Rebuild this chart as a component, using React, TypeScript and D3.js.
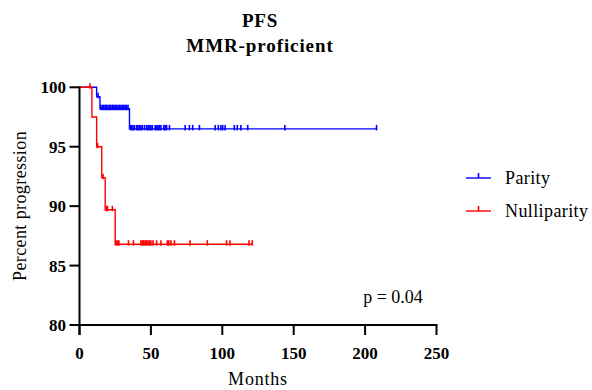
import React from "react";
import * as d3 from "d3";

const xTicks = [0, 50, 100, 150, 200, 250];
const yTicks = [80, 85, 90, 95, 100];

// Parity (blue) step curve
const parityTimes = [0, 12, 14.3, 35, 208];
const paritySurv = [100, 99.2, 98.2, 96.5, 96.5];
const parityCensor = [
  13, 15, 16, 17, 18, 19, 20, 21, 22, 23, 24, 25, 26, 27, 28, 29, 30, 31, 32, 33, 34,
  35.7, 36.6, 37.5, 38.5, 40, 41, 42, 43, 44, 45.5, 47, 48, 49, 50, 51, 53, 54, 55, 56, 57, 59, 60, 61, 63,
  74, 77, 79.3, 84, 95, 97.2, 99, 100.3, 102, 108.4, 110.5, 113, 117.8, 143.8, 208,
];

// Nulliparity (red) step curve
const nulliTimes = [0, 8.7, 12, 15.6, 18, 25, 121];
const nulliSurv = [100, 97.5, 95, 92.4, 89.7, 86.8, 86.8];
const nulliCensor = [
  7.3, 12.6, 16.5, 18.6, 19.6, 23,
  25.6, 26.6, 27.6, 34.3, 37.8, 43, 44, 45, 46, 47, 48, 49, 50, 51.5, 54, 57,
  61.5, 62.5, 64, 66.5, 77.4, 89.5, 103, 105.4, 118.7, 121,
];

const seriesNames = ["Parity", "Nulliparity"];
const seriesColors = ["#0000ff", "#ff0000"];

const FONT = "'Liberation Serif', 'Times New Roman', serif";

function stepValue(times: number[], surv: number[], t: number) {
  let v = surv[0];
  for (let i = 0; i < times.length; i++) {
    if (t >= times[i]) v = surv[i];
  }
  return v;
}

export default function App() {
  const x = d3.scaleLinear().domain([0, 250]).range([79.5, 436.5]);
  const y = d3.scaleLinear().domain([80, 100]).range([325, 87.3]);

  const line = d3
    .line<[number, number]>()
    .x((d) => x(d[0]))
    .y((d) => y(d[1]))
    .curve(d3.curveStepAfter);

  const series = [
    { times: parityTimes, surv: paritySurv, censor: parityCensor },
    { times: nulliTimes, surv: nulliSurv, censor: nulliCensor },
  ];

  return (
    <svg width={592} height={390} style={{ position: "absolute", left: 0, top: 0, background: "#fff" }}>
      <rect width={592} height={390} fill="#fff" />
      <text x={260} y={27} textAnchor="middle" fontFamily={FONT} fontWeight="bold" fontSize={19} letterSpacing={0.8}>PFS</text>
      <text x={260} y={52} textAnchor="middle" fontFamily={FONT} fontWeight="bold" fontSize={19} letterSpacing={0.9}>MMR-proficient</text>

      {series.map((s, i) => {
        const pts: [number, number][] = s.times.map((t, j) => [t, s.surv[j]]);
        return (
          <g key={i}>
            <path d={line(pts) || ""} fill="none" stroke={seriesColors[i]} strokeWidth={1.4} />
            {s.censor.map((c, k) => {
              const v = stepValue(s.times, s.surv, c);
              return (
                <line
                  key={k}
                  x1={x(c)}
                  x2={x(c)}
                  y1={y(v) - 4}
                  y2={y(v) + 1.5}
                  stroke={seriesColors[i]}
                  strokeWidth={1.6}
                />
              );
            })}
          </g>
        );
      })}

      {/* axes */}
      <line x1={x(0)} x2={x(0)} y1={y(100) - 1} y2={335} stroke="#000" strokeWidth={2} />
      <line x1={x(0) - 1} x2={x(250) + 1} y1={y(80)} y2={y(80)} stroke="#000" strokeWidth={2} />
      {yTicks.map((t) => (
        <g key={t}>
          <line x1={x(0) - 10} x2={x(0)} y1={y(t)} y2={y(t)} stroke="#000" strokeWidth={2} />
          <text x={66} y={y(t)} dy="0.35em" textAnchor="end" fontFamily={FONT} fontWeight="bold" fontSize={17}>
            {t}
          </text>
        </g>
      ))}
      {xTicks.map((t) => (
        <g key={t}>
          <line x1={x(t)} x2={x(t)} y1={y(80)} y2={335} stroke="#000" strokeWidth={2} />
          <text x={x(t)} y={359} textAnchor="middle" fontFamily={FONT} fontWeight="bold" fontSize={17}>
            {t}
          </text>
        </g>
      ))}
      <text x={258} y={385} textAnchor="middle" fontFamily={FONT} fontSize={18} letterSpacing={0.8}>Months</text>
      <text
        transform={`translate(26,206) rotate(-90)`}
        textAnchor="middle"
        fontFamily={FONT}
        fontSize={18}
        letterSpacing={0.4}
      >
        Percent progression
      </text>
      <text x={393} y={303} textAnchor="middle" fontFamily={FONT} fontSize={18}>p = 0.04</text>

      {/* legend */}
      {seriesNames.map((n, i) => {
        const ly = 178 + i * 33;
        return (
          <g key={n}>
            <line x1={466} x2={491} y1={ly} y2={ly} stroke={seriesColors[i]} strokeWidth={1.4} />
            <line x1={478.5} x2={478.5} y1={ly - 5} y2={ly} stroke={seriesColors[i]} strokeWidth={1.6} />
            <text x={505} y={ly} dy="0.35em" fontFamily={FONT} fontSize={18} letterSpacing={0.4}>{n}</text>
          </g>
        );
      })}
    </svg>
  );
}
